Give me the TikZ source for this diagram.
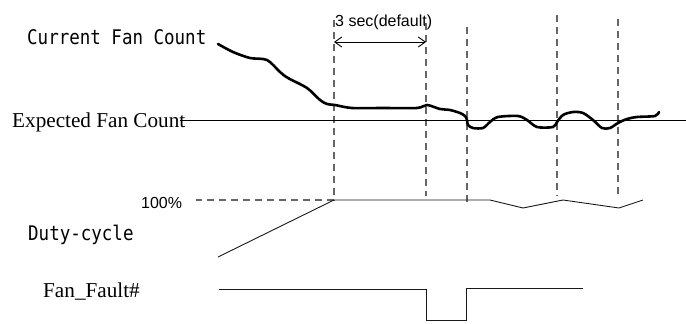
\documentclass[tikz,border=0pt]{standalone}
\usepackage{fontspec}
\setmainfont{Liberation Serif}
\newfontfamily\arialfont{Liberation Sans}
\newfontfamily\monofont{DejaVu Sans Mono}
\usetikzlibrary{arrows.meta}
\begin{document}
\begin{tikzpicture}[x=1pt,y=-1pt,
  lbl/.style={inner sep=0pt,anchor=base west},
  serif/.style={lbl,font=\fontsize{21.2}{24}\selectfont},
  mono/.style={lbl,font=\monofont\fontsize{17.5}{20}\selectfont},
  sans/.style={lbl,font=\arialfont\fontsize{16}{19}\selectfont},
  guide/.style={draw=black!60,line width=1.1pt,dash pattern=on 7pt off 5pt},
  wave/.style={draw=black!90,line width=0.9pt},
  fancurve/.style={draw=black,line width=2.6pt,line join=round,line cap=round}]
\useasboundingbox (0,0) rectangle (686,324);
% labels
\node[mono] (cur) at (27,45) {\scalebox{1}[1.15]{Current Fan Count}};
\node[serif] (exp) at (12,127) {Expected Fan Count};
\node[sans] (pct) at (141,208) {100\%};
\node[mono] (duty) at (28,240) {\scalebox{1}[1.15]{Duty-cycle}};
\node[serif] (ff) at (43,297) {Fan\_Fault\#};
\node[sans] (sec) at (335,26) {3 sec(default)};
% guide lines
\coordinate (g1t) at (334,20);  \coordinate (g1b) at (334,200);
\coordinate (g2t) at (426,23);  \coordinate (g2b) at (426,196);
\coordinate (g3t) at (467,27);  \coordinate (g3b) at (467,203);
\coordinate (g4t) at (557,15);  \coordinate (g4b) at (557,196);
\coordinate (g5t) at (618,19);  \coordinate (g5b) at (618,197);
\coordinate (h100) at (196,200);
\draw[guide] (g1t) -- (g1b) -- (h100);
\draw[guide] (g2t) -- (g2b);
\draw[guide] (g3t) -- (g3b);
\draw[guide] (g4t) -- (g4b);
\draw[guide] (g5t) -- (g5b);
% 3 sec arrow
\coordinate (a1) at (334,42); \coordinate (a2) at (426,42);
\draw[line width=0.9pt,{Straight Barb[length=7pt,width=10pt]}-{Straight Barb[length=7pt,width=10pt]}] (a1) -- (a2);
% expected line
\coordinate (e1) at (180,120); \coordinate (e2) at (686,120);
\draw[line width=0.9pt] (e1) -- (e2);
% current fan count curve
\draw[fancurve] plot[smooth,tension=0.5] coordinates {
 (218,44) (233,52) (250,58) (267,60) (280,72) (288,78) (307,88) (320,100)
 (327,104) (335,105) (352,108) (383,108) (417,108) (427,105) (440,109)
 (450,110) (460,113) (465,116) (467,120) (468,125) (473,128) (483,128)
 (490,122) (498,117) (518,116) (527,120) (537,127) (553,127) (557,122)
 (563,115) (573,112) (583,113) (593,120) (602,128) (610,128) (618,123)
 (627,119) (637,117) (655,116) (659,112)};
% duty cycle
\coordinate (d0) at (218,257);
\coordinate (d1) at (334,200);
\coordinate (d2) at (490,200);
\coordinate (d3) at (523,208);
\coordinate (d4) at (563,200);
\coordinate (d5) at (619,208);
\coordinate (d6) at (643,200);
\draw[wave] (d0) -- (d1) -- (d2) -- (d3) -- (d4) -- (d5) -- (d6);
% fan fault
\coordinate (f0) at (219,289);
\coordinate (f1) at (426,289);
\coordinate (f2) at (426,320);
\coordinate (f3) at (466,320);
\coordinate (f4) at (466,288);
\coordinate (f5) at (583,288);
\draw[wave] (f0) -- (f1) -- (f2) -- (f3) -- (f4) -- (f5);
\end{tikzpicture}
\end{document}
